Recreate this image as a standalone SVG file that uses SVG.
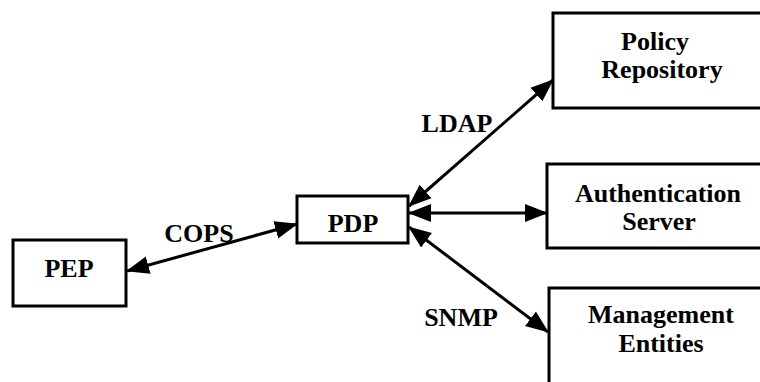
<svg xmlns="http://www.w3.org/2000/svg" width="760" height="382" viewBox="0 0 760 382">
  <style>
    .box { fill: #ffffff; stroke: #000000; stroke-width: 3; }
    .lbl { font-family: "Liberation Serif", "Times New Roman", serif; font-weight: bold; font-size: 26px; fill: #000000; text-anchor: middle; }
    .link { fill: none; stroke: #000000; stroke-width: 3; marker-start: url(#head); marker-end: url(#head); }
  </style>
  <defs>
    <marker id="head" markerUnits="userSpaceOnUse" markerWidth="24" markerHeight="20" viewBox="0 0 24 20" refX="22" refY="10" orient="auto-start-reverse">
      <path d="M0,1 L23,10 L0,19 Z" fill="#000000"/>
    </marker>
  </defs>
  <rect width="760" height="382" fill="#ffffff"/>

  <!-- protocol links between the decision point and its peers -->
  <g id="connectors">
    <line class="link" x1="127" y1="271" x2="297" y2="224"/>
    <line class="link" x1="409" y1="206" x2="553" y2="80"/>
    <line class="link" x1="409" y1="213" x2="547" y2="213"/>
    <line class="link" x1="409" y1="227" x2="548" y2="332"/>
    <text class="lbl" x="199" y="242">COPS</text>
    <text class="lbl" x="457" y="132">LDAP</text>
    <text class="lbl" x="461" y="326">SNMP</text>
  </g>

  <g id="pep">
    <rect class="box" x="13" y="240" width="113" height="66"/>
    <text class="lbl" x="69" y="277">PEP</text>
  </g>

  <g id="pdp">
    <rect class="box" x="297" y="196" width="111" height="47"/>
    <text class="lbl" x="353" y="232">PDP</text>
  </g>

  <g id="policy-repository">
    <rect class="box" x="553" y="13" width="230" height="95"/>
    <text class="lbl" x="655" y="50">Policy</text>
    <text class="lbl" x="662" y="78">Repository</text>
  </g>

  <g id="authentication-server">
    <rect class="box" x="547" y="164" width="230" height="84"/>
    <text class="lbl" x="658" y="202">Authentication</text>
    <text class="lbl" x="659" y="230">Server</text>
  </g>

  <g id="management-entities">
    <rect class="box" x="549" y="288" width="230" height="120"/>
    <text class="lbl" x="661" y="323">Management</text>
    <text class="lbl" x="661" y="352">Entities</text>
  </g>
</svg>
